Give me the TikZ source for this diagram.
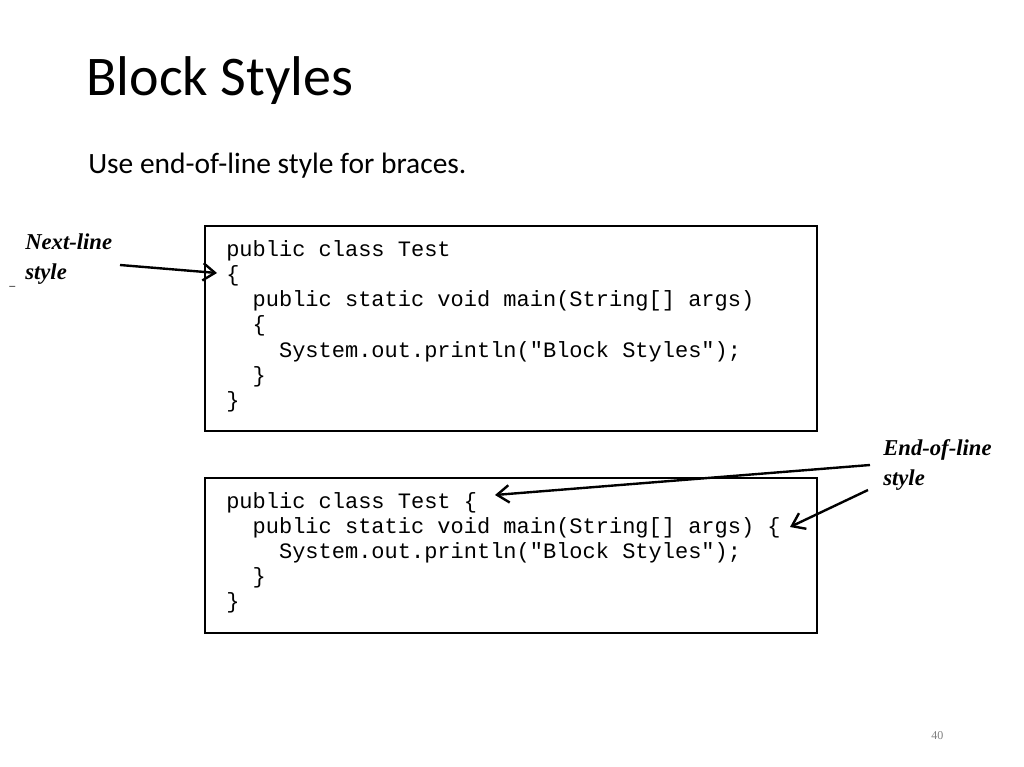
\documentclass[tikz,border=0pt]{standalone}
\usepackage{fontspec}
\setmainfont{Carlito}
\newfontfamily\codefont{Liberation Mono}
\newfontfamily\lblfont{Liberation Serif}
\usetikzlibrary{arrows.meta}
\begin{document}
\begin{tikzpicture}[x=0.75pt,y=-0.75pt,
  codebox/.style={draw,line width=1.5pt},
  code/.style={anchor=base west,inner sep=0,font=\codefont\fontsize{16.5}{20}\selectfont},
  lbl/.style={anchor=base west,inner sep=0,font=\lblfont\bfseries\itshape\fontsize{17}{20}\selectfont},
  arr/.style={line width=1.8pt,-{Straight Barb[length=9pt,width=13pt,line width=1.8pt]}}]
\useasboundingbox (0,0) rectangle (1024,767);
\node[anchor=base west,inner sep=0,font=\fontsize{42}{46}\selectfont] (title) at (86,95) {Block Styles};
\node[anchor=base west,inner sep=0,font=\fontsize{22.1}{26}\selectfont] (sub) at (88,173) {Use end-of-line style for braces.};
\draw[codebox] (205,226) rectangle (817,431);
\draw[codebox] (205,478) rectangle (817,633);
\node[code] (a1) at (226,256) {public class Test};
\node[code] (a2) at (226,281) {\{};
\node[code] (a3) at (226,306) {\ \ public static void main(String[] args)};
\node[code] (a4) at (226,331) {\ \ \{};
\node[code] (a5) at (226,357) {\ \ \ \ System.out.println("Block Styles");};
\node[code] (a6) at (226,382) {\ \ \}};
\node[code] (a7) at (226,407) {\}};
\node[code] (b1) at (226,508) {public class Test \{};
\node[code] (b2) at (226,533) {\ \ public static void main(String[] args) \{};
\node[code] (b3) at (226,558) {\ \ \ \ System.out.println("Block Styles");};
\node[code] (b4) at (226,583) {\ \ \}};
\node[code] (b5) at (226,608) {\}};
\node[lbl] (n1) at (25,249) {Next-line};
\node[lbl] (n2) at (25,279) {style};
\node[lbl] (e1) at (883,455) {End-of-line};
\node[lbl] (e2) at (883,485) {style};
\node[anchor=base west,inner sep=0,font=\fontsize{9}{10}\selectfont] (dash) at (9,285) {\_};
\node[anchor=base west,inner sep=0,text=gray,font=\lblfont\fontsize{9}{10}\selectfont] (pg) at (931,739) {40};
\coordinate (s1) at (120,265); \coordinate (t1) at (217,273);
\coordinate (s2) at (870,465); \coordinate (t2) at (495,495);
\coordinate (s3) at (868,490); \coordinate (t3) at (790,527);
\draw[arr] (s1) -- (t1);
\draw[arr] (s2) -- (t2);
\draw[arr] (s3) -- (t3);
\end{tikzpicture}
\end{document}
